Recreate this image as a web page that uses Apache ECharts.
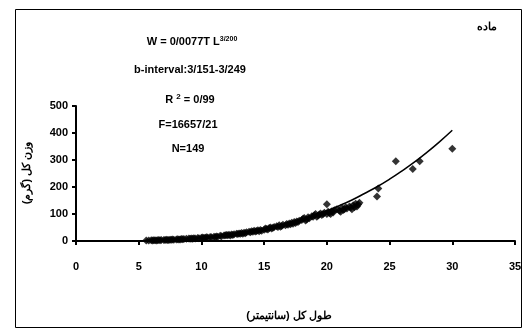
<!DOCTYPE html>
<html><head><meta charset="utf-8">
<script src="https://cdn.jsdelivr.net/npm/echarts@6/dist/echarts.min.js"></script>
<style>html,body{margin:0;padding:0;background:#fff}#c{width:529px;height:331px}</style>
</head><body><div id="c"></div>
<script>
// Observed points: [length (cm), weight (g)]
const obsLength = [5.6,5.8,6.0,6.1,6.2,6.3,6.4,6.5,6.6,6.7,6.8,7.0,7.1,7.2,7.3,7.4,7.5,7.6,7.7,7.8,8.0,8.1,8.2,8.3,8.4,8.5,8.6,8.8,9.0,9.1,9.2,9.3,9.4,9.5,9.7,9.8,10.0,10.1,10.2,10.3,10.4,10.5,10.7,10.8,11.0,11.1,11.2,11.3,11.5,11.6,11.8,11.9,12.0,12.1,12.2,12.3,12.4,12.5,12.6,12.8,12.9,13.0,13.1,13.2,13.3,13.4,13.5,13.6,13.8,13.9,14.0,14.1,14.2,14.3,14.4,14.5,14.6,14.7,14.8,15.0,15.1,15.2,15.3,15.4,15.5,15.6,15.7,15.8,16.0,16.1,16.2,16.3,16.4,16.5,16.7,16.8,16.9,17.0,17.1,17.2,17.3,17.4,17.5,17.6,17.7,17.8,18.0,18.1,18.2,18.3,18.4,18.5,18.6,18.8,18.9,19.0,19.1,19.2,19.3,19.4,19.5,19.6,19.7,19.8,20.0,20.0,20.1,20.2,20.3,20.4,20.5,20.6,20.8,21.0,21.1,21.2,21.3,21.4,21.5,21.6,21.8,21.9,22.0,22.1,22.2,22.3,22.4,22.5,22.6,24.0,24.1,25.5,26.85,27.4,30.0];
const obsWeight = [1.5,2,2.5,2,3,2.5,2,3,3.5,2.8,3.5,4,3.5,4.5,4,3.5,5,4.5,5.5,5,6,6.5,5.5,6,7,6.5,7.5,8,9,8,9.5,8.5,10,9,11,10.5,12,13,11,12,14,13,15,14,16,15,17,16,19,18,20,21,22,21,23,20,24,22,25,27,26,28,27,30,27,31,29,32,34,32,36,34,38,35,37,40,36,41,38,42,46,44,43,48,50,46,49,52,55,52,58,53,56,60,58,63,60,65,62,68,64,70,67,72,70,75,78,82,85,76,80,88,84,92,90,95,100,90,94,98,102,96,100,105,100,136,108,104,100,110,106,114,118,112,108,122,115,118,125,120,128,124,118,132,125,138,128,135,142,165,194,295,267,295,342];
// Fitted curve values
const fitLength = [5.5,6,7,8,9,10,11,12,13,14,15,16,17,18,19,20,21,22,23,24,25,26,27,28,29,30];
const fitWeight = [1.8,2.4,3.9,6.0,8.7,12.2,16.6,21.9,28.3,35.8,44.7,54.9,66.7,80,95,112,131,152,176,201,229,260,293,329,368,410];
const xTicks = [0,5,10,15,20,25,30,35];
const yTicks = [0,100,200,300,400,500];

const chart = echarts.init(document.getElementById('c'), null, {renderer:'canvas'});
const F = '"Liberation Sans", Arial, sans-serif';
const lab = {color:'#000', fontFamily:F, fontWeight:'bold', fontSize:11};
chart.setOption({
  animation:false,
  backgroundColor:'#fff',
  grid:{left:76, right:14, top:106, bottom:90, containLabel:false},
  xAxis:{type:'value', min:xTicks[0], max:xTicks[xTicks.length-1], interval:5,
    axisLine:{onZero:false, lineStyle:{color:'#000', width:2}},
    axisTick:{show:true, length:4, lineStyle:{color:'#000', width:2}},
    axisLabel:Object.assign({margin:20}, lab),
    splitLine:{show:false}},
  yAxis:{type:'value', min:yTicks[0], max:yTicks[yTicks.length-1], interval:100,
    axisLine:{show:true, lineStyle:{color:'#000', width:2}},
    axisTick:{show:true, length:4, lineStyle:{color:'#000', width:2}},
    axisLabel:Object.assign({margin:8}, lab),
    splitLine:{show:false}},
  series:[
    {type:'line', data:fitLength.map((x,i)=>[x,fitWeight[i]]), smooth:true, showSymbol:false,
     lineStyle:{color:'#000', width:1.5}, z:3},
    {type:'scatter', data:obsLength.map((x,i)=>[x,obsWeight[i]]), symbol:'diamond', symbolSize:8,
     itemStyle:{color:'#000'}, z:4}
  ],
  graphic:[
    {type:'rect', shape:{x:15.5, y:9.5, width:506, height:318}, style:{fill:null, stroke:'#000', lineWidth:1}, silent:true, z:-1},
    {type:'text', x:487, y:27, style:{text:'ماده', fill:'#000', font:'bold 11px '+F, textAlign:'center', textVerticalAlign:'middle'}},
    {type:'text', x:192, y:42, style:{text:'{a|W = 0/0077T L}{s|3/200}', textAlign:'center', textVerticalAlign:'middle',
      rich:{a:{fill:'#000', font:'bold 11px '+F}, s:{fill:'#000', font:'bold 7px '+F, verticalAlign:'top', padding:[0,0,6,0]}}}},
    {type:'text', x:190, y:70, style:{text:'b-interval:3/151-3/249', fill:'#000', font:'bold 11px '+F, textAlign:'center', textVerticalAlign:'middle'}},
    {type:'text', x:190, y:100, style:{text:'{a|R }{s|2}{a| = 0/99}', textAlign:'center', textVerticalAlign:'middle',
      rich:{a:{fill:'#000', font:'bold 11px '+F}, s:{fill:'#000', font:'bold 8px '+F, padding:[0,0,6,0]}}}},
    {type:'text', x:188, y:125, style:{text:'F=16657/21', fill:'#000', font:'bold 11px '+F, textAlign:'center', textVerticalAlign:'middle'}},
    {type:'text', x:188, y:149, style:{text:'N=149', fill:'#000', font:'bold 11px '+F, textAlign:'center', textVerticalAlign:'middle'}},
    {type:'text', x:289, y:316, style:{text:'طول كل (سانتيمتر)', fill:'#000', font:'bold 11px '+F, textAlign:'center', textVerticalAlign:'middle'}},
    {type:'text', x:27, y:173, rotation:Math.PI/2, style:{text:'وزن کل (گرم)', fill:'#000', font:'bold 11px '+F, textAlign:'center', textVerticalAlign:'middle'}}
  ]
});
</script></body></html>
